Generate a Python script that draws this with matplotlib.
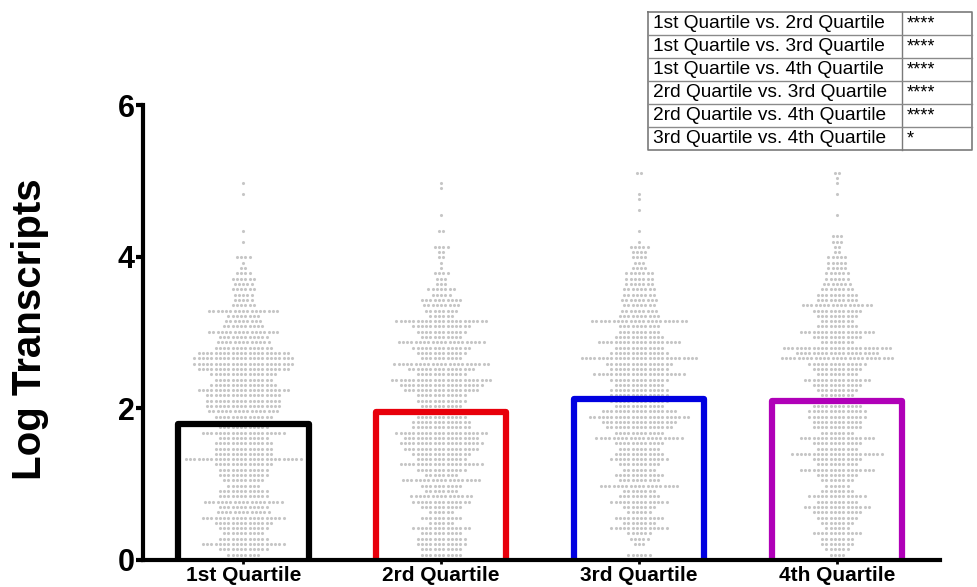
import numpy as np
import matplotlib
matplotlib.use('Agg')
from matplotlib import pyplot as plt

plt.rcParams['font.family'] = ['Liberation Sans', 'DejaVu Sans']

# Group names, bar heights (mean log transcripts) and outline colours
GROUPS = ['1st Quartile', '2rd Quartile', '3rd Quartile', '4th Quartile']
GROUP_LABELS = ['1st Quartile', '2rd Quartile', '3rd Quartile', '4th Quartile']
MEANS = [1.79, 1.95, 2.12, 2.10]
BAR_COLORS = ['#000000', '#e8000b', '#0000e0', '#b000b8']

# Scatter data: number of points in each 0.07-wide row of log transcripts,
# starting at 0.0
ROW_STEP = 0.07
Q1_ROWS = [10, 8, 12, 20, 12, 10, 12, 14, 20, 13, 12, 19, 12, 12, 8, 10, 12, 12,
           14, 28, 14, 14, 14, 12, 20, 12, 13, 14, 17, 18, 18, 18, 22, 16, 14, 16,
           22, 24, 24, 22, 14, 13, 12, 17, 10, 9, 8, 17, 6, 5, 5, 6, 5, 6, 4, 2,
           1, 4, 0, 0, 1, 0, 1, 0, 0, 0, 0, 0, 0, 1, 0, 1]
Q2_ROWS = [12, 10, 10, 12, 12, 10, 14, 6, 10, 6, 10, 14, 15, 8, 10, 19, 8, 12,
           20, 12, 14, 18, 20, 18, 22, 14, 14, 12, 12, 10, 12, 12, 18, 20, 24, 12,
           16, 23, 10, 12, 14, 21, 10, 12, 14, 22, 6, 8, 9, 10, 5, 7, 3, 3, 4, 1,
           1, 2, 2, 4, 0, 0, 2, 0, 0, 1, 0, 0, 0, 0, 1, 1]
Q3_ROWS = [1, 6, 0, 3, 5, 6, 14, 8, 12, 6, 8, 14, 10, 8, 19, 10, 12, 8, 10, 14,
           12, 10, 12, 21, 12, 16, 18, 24, 18, 12, 14, 14, 14, 12, 14, 22, 14, 16,
           28, 14, 12, 20, 12, 10, 10, 23, 10, 9, 8, 9, 8, 8, 7, 7, 7, 4, 3, 4, 4,
           5, 1, 0, 1, 0, 0, 0, 1, 0, 1, 1, 0, 0, 0, 2]
Q4_ROWS = [2, 4, 6, 8, 8, 12, 6, 8, 10, 12, 16, 10, 14, 8, 6, 8, 10, 18, 10, 12,
           22, 10, 12, 18, 8, 12, 12, 14, 14, 12, 10, 8, 10, 12, 16, 10, 12, 14,
           27, 20, 26, 8, 12, 18, 10, 8, 10, 12, 17, 10, 10, 8, 7, 6, 6, 5, 5, 5,
           2, 2, 3, 3, 0, 0, 0, 1, 0, 0, 0, 1, 0, 1, 1, 2]

# Multiple comparison table
COMPARISONS = ['1st Quartile vs. 2rd Quartile', '1st Quartile vs. 3rd Quartile',
               '1st Quartile vs. 4th Quartile', '2rd Quartile vs. 3rd Quartile',
               '2rd Quartile vs. 4th Quartile', '3rd Quartile vs. 4th Quartile']
SIGNIFICANCE = ['****', '****', '****', '****', '****', '*']

DOT_PITCH = 0.0215
BAR_WIDTH = 0.66


def swarm_points(center, rows):
    xs, ys = [], []
    for k, n in enumerate(rows):
        if n == 0:
            continue
        offs = (np.arange(n) - (n - 1) / 2) * DOT_PITCH
        xs.extend(center + offs)
        ys.extend([k * ROW_STEP] * n)
    return np.array(xs), np.array(ys)


def plot_chart():
    fig = plt.figure(figsize=(9.78, 5.87), dpi=100)
    ax = fig.add_axes([0.1465, 0.046, 0.8145, 0.7751])

    x = np.arange(len(GROUPS))

    # Gray point clouds behind the bars
    for xi, rows in zip(x, [Q1_ROWS, Q2_ROWS, Q3_ROWS, Q4_ROWS]):
        px, py = swarm_points(xi, rows)
        ax.scatter(px, py, s=5, color='#c6c6c6', linewidths=0,
                   zorder=1, clip_on=False)

    # Open bars (no bottom edge, it sits on the axis)
    for xi, m, c in zip(x, MEANS, BAR_COLORS):
        l, r = xi - BAR_WIDTH / 2, xi + BAR_WIDTH / 2
        ax.plot([l, l, r, r], [0, m, m, 0], color=c, linewidth=4.5,
                solid_joinstyle='round', solid_capstyle='butt', zorder=2)

    ax.set_xlim(-0.505, 3.52)
    ax.set_ylim(0, 6)
    ax.set_xticks(x)
    ax.set_xticklabels(GROUP_LABELS, fontsize=15, fontweight='bold')
    ax.set_yticks([0, 2, 4, 6])
    ax.set_yticklabels(['0', '2', '4', '6'], fontsize=22, fontweight='bold')
    ax.tick_params(axis='y', length=5, width=3, pad=1)
    ax.tick_params(axis='x', length=3, width=2, pad=1.5)

    for side in ['top', 'right']:
        ax.spines[side].set_visible(False)
    for side in ['left', 'bottom']:
        ax.spines[side].set_linewidth(3)
        ax.spines[side].set_zorder(3)

    fig.text(0.0307, 0.44, 'Log Transcripts', rotation=90, ha='center',
             va='center', fontsize=29, fontweight='bold')

    # Comparison table in the top right corner
    tab = fig.add_axes([0.6626, 0.7445, 0.3313, 0.2351])
    tab.set_xlim(0, 324)
    tab.set_ylim(len(COMPARISONS), 0)
    tab.axis('off')
    split = 254
    tab.plot([0, 324, 324, 0, 0], [0, 0, 6, 6, 0], color='#7a7a7a',
             linewidth=1.2, clip_on=False)
    tab.plot([split, split], [0, 6], color='#7a7a7a', linewidth=1.0,
             clip_on=False)
    for i in range(1, len(COMPARISONS)):
        tab.plot([0, 324], [i, i], color='#8a8a8a', linewidth=1.0,
                 clip_on=False)
    for i, (name, sig) in enumerate(zip(COMPARISONS, SIGNIFICANCE)):
        tab.text(5, i + 0.52, name, ha='left', va='center', fontsize=13.8)
        tab.text(split + 5, i + 0.52, sig, ha='left', va='center',
                 fontsize=13)

    fig.savefig('out.png', dpi=100)


if __name__ == '__main__':
    plot_chart()
